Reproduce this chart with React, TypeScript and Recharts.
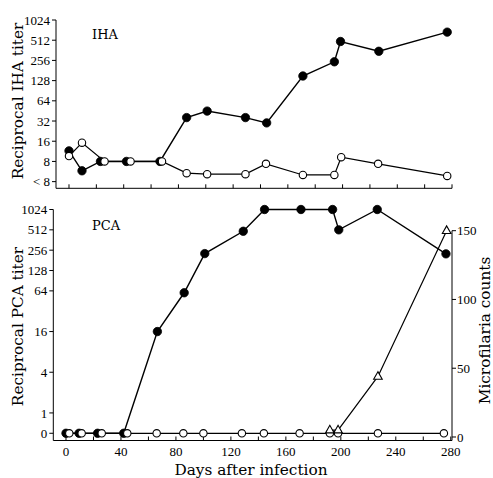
import React from 'react';
import { LineChart, Line, XAxis, YAxis, ReferenceLine } from 'recharts';

// ---------- data ----------
const sampleDays = [0, 9.5, 23, 42, 66.5, 86, 101, 129, 144.5, 171, 194, 198.5, 226.5, 276.5];
const ihaControlDays = [0, 9.5, 26, 45, 68, 86, 101, 129, 144, 171, 194, 199, 226, 276.5];
const ihaInfected = [11.5, 5.8, 8, 8, 8, 36, 45, 36, 30, 150, 244, 490, 350, 675];
const ihaControl = [9.6, 15.2, 8, 8, 8, 5.35, 5.17, 5.17, 7.36, 5.03, 5.03, 9.25, 7.36, 4.86];

const pcaInfected = [0, 0, 0, 0, 16, 60, 228, 488, 1024, 1024, 1024, 512, 1024, 226];
const pcaControlDays = [2.4, 11.4, 26, 44.6, 66, 85.4, 100, 128, 144, 170, 192, 198, 227, 275];
const pcaControl = [0, 0, 0, 0, 0, 0, 0, 0, 0, 0, 0, 0, 0, 0];

const mfDays = [192, 198, 227, 277];
const mfCounts = [5, 5, 44, 150];

const dayTicks = [0, 20, 40, 60, 80, 100, 120, 140, 160, 180, 200, 220, 240, 260, 280];
const ihaTickLabels = ['< 8', '8', '16', '32', '64', '128', '256', '512', '1024'];
const pcaTickValues = [0, 1, 4, 16, 64, 128, 256, 512, 1024];
const pcaTickLabels = ['0', '1', '4', '16', '64', '128', '256', '512', '1024'];
const mfTicks = [0, 50, 100, 150];

// ---------- transforms ----------
const ihaPos = (t: number) => Math.log2(t) - 2; // "<8" level = 0
const pcaPos = (t: number) => (t === 0 ? -1 : Math.log2(t)); // "0" level = -1

const ihaInfectedData = sampleDays.map((d, i) => ({ day: d, v: ihaPos(ihaInfected[i]) }));
const ihaControlData = ihaControlDays.map((d, i) => ({ day: d, v: ihaPos(ihaControl[i]) }));
const pcaInfectedData = sampleDays.map((d, i) => ({ day: d, v: pcaPos(pcaInfected[i]) }));
const pcaControlData = pcaControlDays.map((d, i) => ({ day: d, v: pcaPos(pcaControl[i]) }));
const mfData = mfDays.map((d, i) => ({ day: d, v: mfCounts[i] }));
const ihaTicks = ihaTickLabels.map((_, i) => i);
const pcaTicks = pcaTickValues.map(pcaPos);

// ---------- styles ----------
const TICK_FONT = 'Liberation Serif, Times New Roman, serif';
const TITLE_FONT = 'DejaVu Serif, serif';
const tickStyle = { fill: '#000', fontSize: 13, fontFamily: TICK_FONT };
const titleStyle = { fill: '#000', fontSize: 15.3, fontFamily: TITLE_FONT };
const filledDot = { r: 4.2, fill: '#000', stroke: '#000', strokeWidth: 0.8 };
const openDot = { r: 3.7, fill: '#fff', stroke: '#000', strokeWidth: 1.1 };

const Triangle = (props: any) => {
  const { cx, cy, index } = props;
  if (cx == null || cy == null) return null;
  return (
    <path
      key={`tri-${index}`}
      d={`M${cx},${cy - 4.8} L${cx - 4.3},${cy + 2.8} L${cx + 4.3},${cy + 2.8} Z`}
      fill="#fff"
      stroke="#000"
      strokeWidth={1.1}
    />
  );
};

const ihaTitle = () => (
  <g>
    <text x={23} y={101} transform="rotate(-90 23 101)" textAnchor="middle" {...titleStyle}>
      Reciprocal IHA titer
    </text>
    <text x={92} y={39} {...titleStyle} fontSize={13}>
      IHA
    </text>
  </g>
);

const pcaTitle = () => (
  <g>
    <text x={23} y={131.5} transform="rotate(-90 23 131.5)" textAnchor="middle" {...titleStyle}>
      Reciprocal PCA titer
    </text>
    <text x={92} y={34.5} {...titleStyle} fontSize={13}>
      PCA
    </text>
  </g>
);

const mfTitle = () => (
  <text x={490} y={135.5} transform="rotate(-90 490 135.5)" textAnchor="middle" {...titleStyle}>
    Microfilaria counts
  </text>
);

const daysTitle = () => (
  <text x={251} y={279.5} textAnchor="middle" {...titleStyle}>
    Days after infection
  </text>
);

export default function App() {
  return (
    <div style={{ position: 'absolute', left: 0, top: 0, width: 493, height: 478, background: '#fff' }}>
      <div style={{ position: 'absolute', left: 0, top: 0 }}>
        <LineChart width={493} height={200} margin={{ top: 20, right: 41, bottom: 0, left: 0 }}>
          <XAxis
            type="number"
            dataKey="day"
            domain={[-9.5, 280]}
            ticks={dayTicks}
            interval={0}
            tickFormatter={() => ''}
            tickSize={-4}
            height={11.7}
            stroke="#000"
          />
          <YAxis
            type="number"
            domain={[-0.33, 8]}
            ticks={ihaTicks}
            interval={0}
            tickFormatter={(v: number) => ihaTickLabels[v] ?? ''}
            width={56}
            tickSize={4}
            tickMargin={2}
            stroke="#000"
            tick={tickStyle}
            label={ihaTitle}
          />
          <Line data={ihaInfectedData} dataKey="v" type="linear" stroke="#000" strokeWidth={1.4} dot={filledDot} activeDot={false} isAnimationActive={false} />
          <Line data={ihaControlData} dataKey="v" type="linear" stroke="#000" strokeWidth={1.2} dot={openDot} activeDot={false} isAnimationActive={false} />
        </LineChart>
      </div>
      <div style={{ position: 'absolute', left: 0, top: 195 }}>
        <LineChart width={493} height={283} margin={{ top: 14.5, right: 0, bottom: 0, left: 0 }}>
          <XAxis
            type="number"
            dataKey="day"
            domain={[-9.24, 280.9]}
            ticks={dayTicks}
            interval={0}
            tickFormatter={(v: number) => (v % 40 === 0 ? String(v) : '')}
            tickSize={-4}
            tickMargin={10.5}
            height={37.5}
            stroke="#000"
            tick={tickStyle}
            label={daysTitle}
          />
          <YAxis
            yAxisId="left"
            type="number"
            domain={[-1.355, 10]}
            ticks={pcaTicks}
            interval={0}
            tickFormatter={(v: number) => pcaTickLabels[pcaTicks.indexOf(v)] ?? ''}
            width={53.3}
            tickSize={4}
            tickMargin={2}
            stroke="#000"
            tick={tickStyle}
            label={pcaTitle}
          />
          <YAxis
            yAxisId="right"
            orientation="right"
            type="number"
            domain={[-2.55, 165.4]}
            ticks={mfTicks}
            interval={0}
            width={41}
            tickSize={4}
            tickMargin={1}
            axisLine={false}
            stroke="#000"
            tick={tickStyle}
            label={mfTitle}
          />
          <ReferenceLine
            yAxisId="right"
            segment={[{ x: 280.9, y: -2.55 }, { x: 280.9, y: 150 }]}
            stroke="#000"
            strokeWidth={1}
            ifOverflow="visible"
          />
          <Line yAxisId="left" data={pcaInfectedData} dataKey="v" type="linear" stroke="#000" strokeWidth={1.4} dot={filledDot} activeDot={false} isAnimationActive={false} />
          <Line yAxisId="left" data={pcaControlData} dataKey="v" type="linear" stroke="#000" strokeWidth={1.2} dot={openDot} activeDot={false} isAnimationActive={false} />
          <Line yAxisId="right" data={mfData} dataKey="v" type="linear" stroke="#000" strokeWidth={1.2} dot={Triangle} activeDot={false} isAnimationActive={false} />
        </LineChart>
      </div>
    </div>
  );
}
